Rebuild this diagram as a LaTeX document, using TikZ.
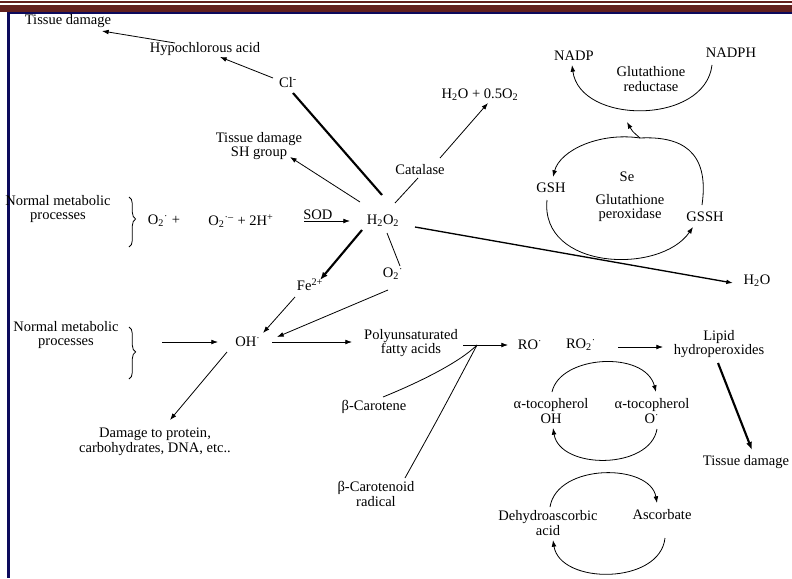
\documentclass[tikz,border=0pt]{standalone}
\usepackage{fontspec}
\setmainfont{Liberation Serif}
\usetikzlibrary{arrows.meta,decorations.pathreplacing}
\definecolor{barred}{RGB}{98,32,30}
\definecolor{barblue}{RGB}{12,10,92}

\begin{document}
\begin{tikzpicture}[x=0.75pt,y=-0.75pt,
  every node/.style={font=\fontsize{10.9}{11.2}\selectfont,align=center,inner sep=1pt},
  arr/.style={-{Latex[length=5pt,width=3.6pt]},line width=0.6pt},
  thk/.style={-{Latex[length=6pt,width=4.6pt]},line width=1.6pt},
  thkl/.style={line width=1.6pt},
  ln/.style={line width=0.6pt},
  brc/.style={decorate,decoration={brace,amplitude=5pt,aspect=#1},line width=0.6pt}]
\useasboundingbox (0,0) rectangle (792,578);
\fill[white] (0,0) rectangle (792,578);
\fill[barred] (0,1) rectangle (792,2.7);
\fill[barred] (0,4.7) rectangle (792,11.7);
\fill[barblue] (7,11.7) rectangle (792,14);
\fill[barblue] (7,11.7) rectangle (9.5,578);

\node (td1) at (68,21) {Tissue damage};
\node (hocl) at (205,49) {Hypochlorous acid};
\node (cl) at (288,83) {Cl\textsuperscript{-}};
\node (tdsh) at (259,146) {Tissue damage\\SH group};
\node (cat) at (420,170) {Catalase};
\node (h2oo) at (480,95) {H\textsubscript{2}O + 0.5O\textsubscript{2}};
\node (nadp) at (574,56) {NADP};
\node (nadph) at (731,53) {NADPH};
\node (gred) at (651,79) {Glutathione\\reductase};
\node (se) at (627,177) {Se};
\node (gpx) at (630,208) {Glutathione\\peroxidase};
\node (gsh) at (551,188) {GSH};
\node (gssh) at (705,217) {GSSH};
\node (nmp1) at (58,209) {Normal metabolic\\processes};
\node (o2a) at (164,221) {O\textsubscript{2}\textsuperscript{·} +};
\node (o2b) at (241,221) {O\textsubscript{2}\textsuperscript{·–} + 2H\textsuperscript{+}};
\node (h2o2) at (383,221) {H\textsubscript{2}O\textsubscript{2}};
\node (fe) at (310,285) {Fe\textsuperscript{2+}};
\node (o2c) at (393,274) {O\textsubscript{2}\textsuperscript{·}};
\node (h2o) at (757,281) {H\textsubscript{2}O};
\node (nmp2) at (66,335) {Normal metabolic\\processes};
\node (oh) at (248,342) {OH\textsuperscript{·}};
\node (pufa) at (411,343) {Polyunsaturated\\fatty acids};
\node (ro) at (530,345) {RO\textsuperscript{·}};
\node (ro2) at (581,345) {RO\textsubscript{2}\textsuperscript{·}};
\node (lhp) at (719,344) {Lipid\\hydroperoxides};
\node (td3) at (746,462) {Tissue damage};
\node (bcar) at (374,407) {β-Carotene};
\node (bcrad) at (376,494) {β-Carotenoid\\radical};
\node (atoh) at (551,411) {α-tocopherol\\OH};
\node (ato) at (652,411) {α-tocopherol\\O\textsuperscript{·}};
\node (dha) at (548,523) {Dehydroascorbic\\acid};
\node (asc) at (662,515) {Ascorbate};
\node (dmg) at (155,442) {Damage to protein,\\carbohydrates, DNA, etc..};

\draw[brc=0.44] (129,197) -- (129,247);
\draw[brc=0.48] (129,327) -- (129,379);

\draw[arr] ([shift={(-30,-6)}]hocl.center) -- ([shift={(34,10)}]td1.center);
\draw[arr] ([shift={(-15,-5)}]cl.center) -- ([shift={(15,8)}]hocl.center);
\draw[thkl] ([shift={(-1,-26)}]h2o2.center) -- ([shift={(5,10)}]cl.center);
\draw[arr] ([shift={(-23,-19)}]h2o2.center) -- ([shift={(31,11)}]tdsh.center);
\draw[ln] ([shift={(12,-18)}]h2o2.center) -- ([shift={(-2,8)}]cat.center);
\draw[arr] ([shift={(20,-12)}]cat.center) -- ([shift={(8,8)}]h2oo.center);
\draw[arr] ([shift={(63,0)}]o2b.center) -- node[above,pos=0.3] (sod) {SOD} ([shift={(-33,0)}]h2o2.center);
\draw[thk] ([shift={(-21,9)}]h2o2.center) -- ([shift={(10,-5)}]fe.center);
\draw[ln] ([shift={(4,12)}]h2o2.center) -- ([shift={(7,-8)}]o2c.center);
\draw[arr,line width=1pt] ([shift={(32,6)}]h2o2.center) -- ([shift={(-24,2)}]h2o.center);
\draw[arr] ([shift={(-15,12)}]fe.center) -- ([shift={(15,-9)}]oh.center);
\draw[arr] ([shift={(-5,16)}]o2c.center) -- ([shift={(29,-5)}]oh.center);
\coordinate (in2) at (162,342);
\draw[arr] (in2) -- ([shift={(-30,0)}]oh.center);
\draw[arr] ([shift={(24,0)}]oh.center) -- ([shift={(-59,-1)}]pufa.center);
\draw[arr] ([shift={(52,2)}]pufa.center) -- ([shift={(-22,0)}]ro.center);
\draw[arr] ([shift={(37,2)}]ro2.center) -- ([shift={(-56,3)}]lhp.center);
\draw[thk] ([shift={(-1,19)}]lhp.center) -- ([shift={(6,-12)}]td3.center);
\draw[arr] ([shift={(-21,10)}]oh.center) -- ([shift={(15,-22)}]dmg.center);
\coordinate (jn) at (477,345);
\draw[ln] ([shift={(9,-10)}]bcar.center) .. controls (420,382) and (460,362) .. (jn);
\draw[ln] ([shift={(29,-16)}]bcrad.center) .. controls (440,415) .. (jn);

\draw[arr] ([shift={(-19,12)}]nadph.center) .. controls (705,125) and (580,125) .. ([shift={(-2,9)}]nadp.center);
\draw[arr] ([shift={(13,-39)}]se.center) .. controls (632,131) .. ([shift={(-24,43)}]gred.center);
\draw[arr] ([shift={(13,-39)}]se.center) .. controls (600,132) and (560,150) .. ([shift={(2,-11)}]gsh.center);
\draw[arr] ([shift={(-4,12)}]gsh.center) .. controls (540,270) and (660,275) .. ([shift={(-12,10)}]gssh.center);
\draw[ln] ([shift={(-3,-12)}]gssh.center) .. controls (710,150) and (680,136) .. ([shift={(13,-39)}]se.center);

\draw[arr] ([shift={(1,-19)}]atoh.center) .. controls (560,355) and (645,350) .. ([shift={(4,-19)}]ato.center);
\draw[arr] ([shift={(5,18)}]ato.center) .. controls (650,470) and (560,470) .. ([shift={(2,17)}]atoh.center);
\draw[arr] ([shift={(2,-16)}]dha.center) .. controls (557,463) and (650,463) .. ([shift={(-5,-12)}]asc.center);
\draw[arr] ([shift={(3,23)}]asc.center) .. controls (660,585) and (560,585) .. ([shift={(5,17)}]dha.center);
\end{tikzpicture}
\end{document}
